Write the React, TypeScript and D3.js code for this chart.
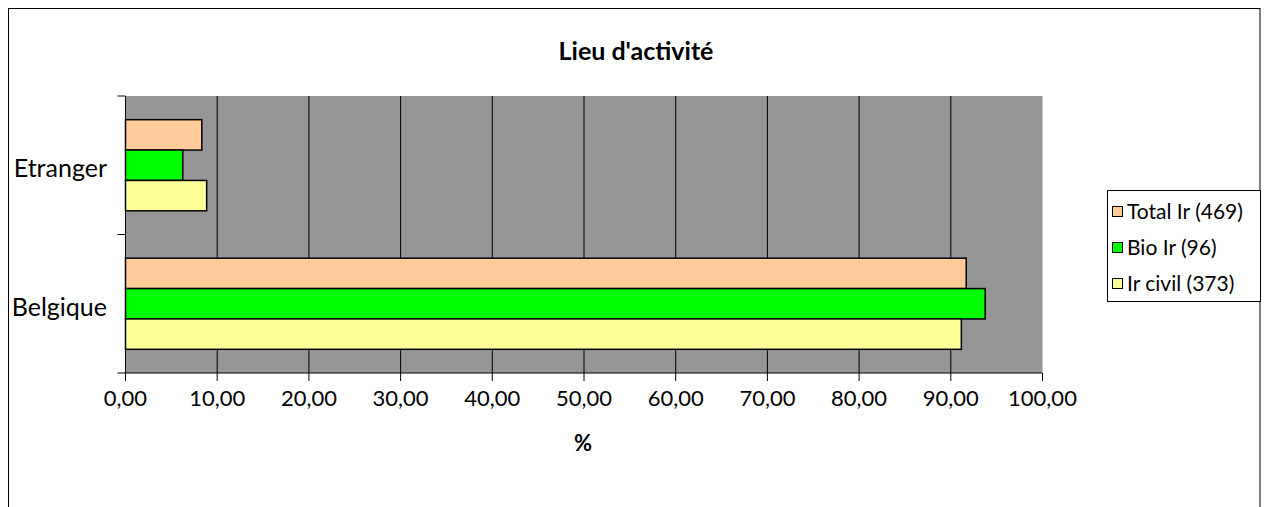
import { useMemo } from 'react';
import * as d3 from 'd3';

const W = 1268;
const H = 507;
const PLOT = { left: 125.5, right: 1042.5, top: 96, bottom: 373 };
const FONT = 'Lato, "Open Sans", sans-serif';

const categories = ['Etranger', 'Belgique'];
const seriesNames = ['Total Ir (469)', 'Bio Ir (96)', 'Ir civil (373)'];
const totalIr = [8.32, 91.68];
const bioIr = [6.25, 93.75];
const irCivil = [8.85, 91.15];
const seriesColors = ['#FFCC99', '#00FF00', '#FFFF99'];
const xTicks = [0, 10, 20, 30, 40, 50, 60, 70, 80, 90, 100];

const fmt = d3.formatLocale({ decimal: ',', thousands: ' ', grouping: [3], currency: ['', ''] }).format('.2f');

export default function App() {
  const { x, y, ySub, bars } = useMemo(() => {
    const x = d3.scaleLinear().domain([0, 100]).range([PLOT.left, PLOT.right]);
    const y = d3.scaleBand<string>().domain(categories).range([PLOT.top, PLOT.bottom]);
    const ySub = d3
      .scaleBand<string>()
      .domain(seriesNames)
      .range([0, y.bandwidth()])
      .paddingOuter(0.78);
    const values = [totalIr, bioIr, irCivil];
    const bars = categories.flatMap((c, ci) =>
      seriesNames.map((s, si) => ({ c, s, v: values[si][ci], color: seriesColors[si] }))
    );
    return { x, y, ySub, bars };
  }, []);

  return (
    <>
      <style>{'body{margin:0}'}</style>
      <svg width={W} height={H} style={{ display: 'block' }} fontFamily={FONT}>
        <rect x={8.5} y={8.5} width={1251.5} height={H + 20} fill="#fff" stroke="#000" strokeWidth={1} />

        <text x={636} y={60} textAnchor="middle" fontSize={25} fontWeight={700}>
          Lieu d'activité
        </text>

        <rect
          x={PLOT.left}
          y={PLOT.top}
          width={PLOT.right - PLOT.left}
          height={PLOT.bottom - PLOT.top}
          fill="#969696"
        />

        {xTicks.slice(1, -1).map((t) => (
          <line key={t} x1={x(t)} x2={x(t)} y1={PLOT.top} y2={PLOT.bottom} stroke="#000" strokeWidth={1} />
        ))}

        {bars.map((b) => (
          <rect
            key={b.c + b.s}
            x={x(0)}
            y={(y(b.c) ?? 0) + (ySub(b.s) ?? 0)}
            width={x(b.v) - x(0)}
            height={ySub.bandwidth()}
            fill={b.color}
            stroke="#000"
            strokeWidth={1.5}
          />
        ))}

        {/* axes */}
        <line x1={PLOT.left} x2={PLOT.left} y1={PLOT.top} y2={PLOT.bottom} stroke="#000" />
        <line x1={PLOT.left} x2={PLOT.right} y1={PLOT.bottom} y2={PLOT.bottom} stroke="#000" />
        {[...categories.map((c) => y(c) ?? 0), PLOT.bottom].map((v, i) => (
          <line key={i} x1={PLOT.left - 8} x2={PLOT.left} y1={v} y2={v} stroke="#000" />
        ))}
        {xTicks.map((t) => (
          <g key={t}>
            <line x1={x(t)} x2={x(t)} y1={PLOT.bottom} y2={PLOT.bottom + 8} stroke="#000" />
            <text x={x(t)} y={406} textAnchor="middle" fontSize={22}>
              {fmt(t)}
            </text>
          </g>
        ))}
        {categories.map((c) => (
          <text
            key={c}
            x={107}
            y={(y(c) ?? 0) + y.bandwidth() / 2 + 12}
            textAnchor="end"
            fontSize={25}
          >
            {c}
          </text>
        ))}

        <text x={583} y={451} textAnchor="middle" fontSize={22} fontWeight={700}>
          %
        </text>

        {/* legend */}
        <rect x={1107.5} y={190.5} width={153} height={111} fill="#fff" stroke="#000" />
        {seriesNames.map((s, i) => (
          <g key={s} transform={`translate(1112, ${212 + i * 36})`}>
            <rect x={0.5} y={-5.5} width={10} height={10} fill={seriesColors[i]} stroke="#000" />
            <text x={15} y={7} fontSize={21}>
              {s}
            </text>
          </g>
        ))}
      </svg>
    </>
  );
}
